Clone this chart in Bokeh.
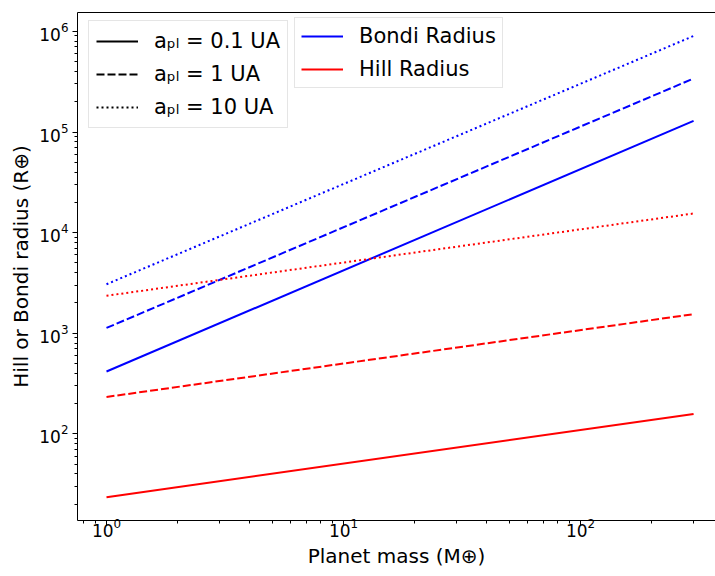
from bokeh.plotting import figure
from bokeh.models import (ColumnDataSource, Legend, LegendItem, Range1d, LogAxis,
                          LogTicker)
from bokeh.embed import file_html
from bokeh.resources import INLINE

# ---- data ----
mass = [1, 300]                        # planet mass (Earth masses)
bondi_01 = [417, 1.29e5]               # Bondi radius, a = 0.1 UA
bondi_1 = [1130, 3.4e5]                # Bondi radius, a = 1 UA
bondi_10 = [3070, 9.0e5]               # Bondi radius, a = 10 UA
hill_01 = [23.5, 158]                  # Hill radius, a = 0.1 UA
hill_1 = [233, 1550]                   # Hill radius, a = 1 UA
hill_10 = [2360, 15500]                # Hill radius, a = 10 UA
dist_labels = ["aₚₗ = 0.1 UA", "aₚₗ = 1 UA", "aₚₗ = 10 UA"]
kind_labels = ["Bondi Radius", "Hill Radius"]

FONT = "DejaVu Sans"
BLUE = "#0000ff"
RED = "#ff0000"
DASH = "8 3"
DOT = "2 3"

p = figure(width=715, height=576, x_axis_type="log", y_axis_type="log",
           x_range=Range1d(0.7545, 371.2), y_range=Range1d(13.8, 1.54e6),
           output_backend="svg", toolbar_location=None,
           min_border_left=77, min_border_right=0, min_border_top=12,
           min_border_bottom=56)
p.grid.visible = False
p.outline_line_color = None
p.background_fill_color = "white"
p.border_fill_color = "white"

styles = ["solid", DASH, DOT]
blue_r = []
red_r = []
for ys, st in zip([bondi_01, bondi_1, bondi_10], styles):
    blue_r.append(p.line(mass, ys, line_color=BLUE, line_width=2, line_dash=st))
for ys, st in zip([hill_01, hill_1, hill_10], styles):
    red_r.append(p.line(mass, ys, line_color=RED, line_width=2, line_dash=st))

# black legend proxies (no drawable data)
proxies = []
for st in styles:
    src = ColumnDataSource(dict(x=[float("nan")], y=[float("nan")]))
    proxies.append(p.line("x", "y", source=src, line_color="black", line_width=2,
                          line_dash=st))

def style_legend(lg):
    lg.label_text_font = FONT
    lg.label_text_font_size = "21px"
    lg.label_text_color = "black"
    lg.glyph_width = 42
    lg.label_standoff = 16
    lg.border_line_color = "#cccccc"
    lg.border_line_width = 1
    lg.background_fill_color = "white"
    lg.background_fill_alpha = 0.8
    lg.margin = 0

leg1 = Legend(items=[LegendItem(label=l, renderers=[r]) for l, r in zip(dist_labels, proxies)],
              location=(11, 392))
style_legend(leg1)
leg1.padding = 7
leg1.spacing = 7
leg1.glyph_height = 26
leg1.label_height = 26

leg2 = Legend(items=[LegendItem(label=kind_labels[0], renderers=[blue_r[0]]),
                     LegendItem(label=kind_labels[1], renderers=[red_r[0]])],
              location=(217, 432))
style_legend(leg2)
leg2.padding = 6
leg2.spacing = 9
leg2.glyph_height = 22
leg2.label_height = 22

p.add_layout(leg1, "center")
p.add_layout(leg2, "center")

for ax in [p.xaxis[0], p.yaxis[0]]:
    ax.axis_line_color = "black"
    ax.axis_line_width = 1
    ax.major_tick_line_color = "black"
    ax.minor_tick_line_color = "black"
    ax.major_tick_in = 0
    ax.major_tick_out = 5
    ax.minor_tick_in = 0
    ax.minor_tick_out = 3
    ax.major_label_text_font = FONT
    ax.major_label_text_font_size = "17px"
    ax.major_label_text_color = "black"
    ax.axis_label_text_font = FONT
    ax.axis_label_text_font_size = "20px"
    ax.axis_label_text_font_style = "normal"
    ax.axis_label_text_color = "black"
    ax.major_label_standoff = 4

p.xaxis.axis_label = "Planet mass (M⊕)"
p.yaxis.axis_label = "Hill or Bondi radius (R⊕)"
p.xaxis.major_label_standoff = -8
p.xaxis.axis_label_standoff = 4
p.yaxis.axis_label_standoff = 3

top = LogAxis(ticker=LogTicker(), axis_line_color="black", major_tick_line_color=None,
              minor_tick_line_color=None, major_label_text_font_size="0px",
              major_label_text_color=None)
p.add_layout(top, "above")

open("out.html", "w").write(file_html(p, INLINE))
